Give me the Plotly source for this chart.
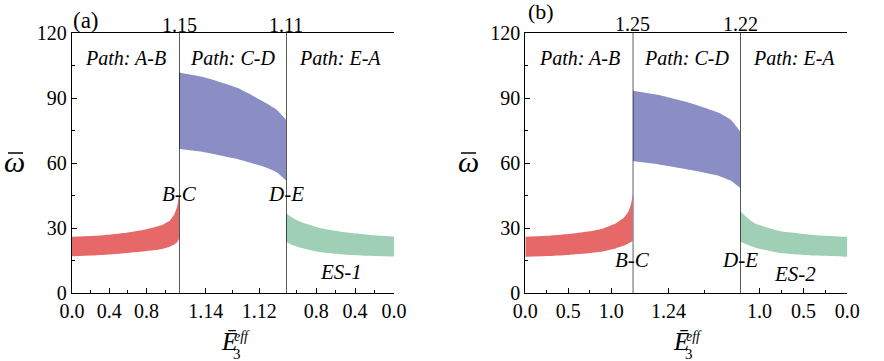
import plotly.graph_objects as go

W, H = 884, 361
FONT = "Liberation Serif, Times New Roman, Tinos, DejaVu Serif, serif"

# ---- panel (a) : ES-1 ----
a_ab_x = [0.0, 0.2, 0.4, 0.6, 0.8, 0.95, 1.05, 1.10, 1.13, 1.15]
a_ab_lo = [17.1, 17.4, 17.9, 18.6, 19.5, 20.3, 21.5, 22.5, 23.5, 25.0]
a_ab_hi = [26.1, 26.4, 27.0, 28.0, 29.5, 31.2, 33.5, 36.5, 40.0, 45.5]

a_cd_x = [1.15, 1.141, 1.135, 1.128, 1.1185, 1.1135, 1.11]
a_cd_lo = [66.6, 65.1, 63.6, 61.8, 58.4, 55.8, 52.0]
a_cd_hi = [101.8, 99.7, 97.5, 94.6, 88.4, 84.6, 80.0]

a_ea_x = [1.11, 1.05, 0.95, 0.75, 0.5, 0.25, 0.0]
a_ea_lo = [23.8, 22.4, 20.9, 18.9, 17.8, 17.3, 17.0]
a_ea_hi = [36.9, 35.0, 32.8, 30.0, 28.1, 26.9, 26.2]

# ---- panel (b) : ES-2 ----
b_ab_x = [0.0, 0.25, 0.5, 0.75, 0.9, 1.05, 1.15, 1.2, 1.23, 1.25]
b_ab_lo = [16.9, 17.2, 17.7, 18.6, 19.3, 20.7, 22.0, 23.0, 23.6, 24.1]
b_ab_hi = [26.1, 26.5, 27.3, 28.6, 29.8, 32.2, 35.0, 37.7, 41.0, 45.8]

b_cd_x = [1.25, 1.243, 1.234, 1.226, 1.2225, 1.22]
b_cd_lo = [61.0, 59.5, 56.9, 54.1, 51.8, 48.5]
b_cd_hi = [93.4, 91.5, 87.7, 83.2, 79.8, 74.5]

b_ea_x = [1.22, 1.1, 1.03, 0.77, 0.39, 0.05, 0.0]
b_ea_lo = [23.8, 21.8, 20.8, 18.6, 17.4, 16.9, 16.9]
b_ea_hi = [37.7, 33.5, 31.8, 28.7, 26.9, 26.1, 26.1]

# turning points of the loading paths
a_breaks = [1.15, 1.11]
b_breaks = [1.25, 1.22]

path_labels = ["Path: A-B", "Path: C-D", "Path: E-A"]
y_ticks = [0, 30, 60, 90, 120]

RED, BLUE, GREEN = "#E66868", "#8B8EC5", "#9FD0B6"


def px(x):
    return x / W


def py(y):
    return 1 - y / H


fig = go.Figure()


def band(x, lo, hi, color, xa, ya):
    line = dict(width=0, shape="spline", smoothing=0.4)
    fig.add_trace(go.Scatter(x=x, y=lo, mode="lines", line=line,
                             xaxis=xa, yaxis=ya, hoverinfo="skip", showlegend=False))
    fig.add_trace(go.Scatter(x=x, y=hi, mode="lines", line=line,
                             fill="tonexty", fillcolor=color, xaxis=xa, yaxis=ya,
                             hoverinfo="skip", showlegend=False))


band(a_ab_x, a_ab_lo, a_ab_hi, RED, "x", "y")
band(a_cd_x, a_cd_lo, a_cd_hi, BLUE, "x2", "y")
band(a_ea_x, a_ea_lo, a_ea_hi, GREEN, "x3", "y")
band(b_ab_x, b_ab_lo, b_ab_hi, RED, "x4", "y3")
band(b_cd_x, b_cd_lo, b_cd_hi, BLUE, "x5", "y3")
band(b_ea_x, b_ea_lo, b_ea_hi, GREEN, "x6", "y3")

tickfont = dict(family=FONT, size=20, color="black")
LW = 1.3

# pixel edges of the three sub-ranges of each panel
a_edges = [72, 179, 286, 394]
b_edges = [525.3, 632.7, 740.3, 847.3]
y_dom = [py(293.3), py(33)]


def xaxis(edges, i, rng, anchor, major, minor):
    ax = dict(domain=[px(edges[i]), px(edges[i + 1])], range=rng, anchor=anchor,
              automargin=False,
              showline=True, linecolor="black", linewidth=LW, mirror=True,
              showgrid=False, zeroline=False, ticks="inside", ticklen=5,
              tickcolor="black", tickwidth=1, tickfont=tickfont,
              minor=dict(ticks="inside", ticklen=3, tickcolor="black", **minor))
    ax.update(major)
    return ax


yax = dict(range=[0, 120], domain=y_dom, tickvals=y_ticks, showline=True, linecolor="black",
           automargin=False,
           linewidth=LW, showgrid=False, zeroline=False, ticks="inside", ticklen=5,
           tickcolor="black", tickfont=tickfont,
           minor=dict(ticks="inside", ticklen=3, dtick=15, tick0=0, tickcolor="black"))

fig.update_layout(
    width=W, height=H, margin=dict(l=0, r=0, t=0, b=0, autoexpand=False),
    paper_bgcolor="white", plot_bgcolor="white",
    font=dict(family=FONT, color="black"),
    xaxis=xaxis(a_edges, 0, [0, a_breaks[0]], "y", dict(dtick=0.4, tick0=0, tickformat=".1f"), dict(dtick=0.2, tick0=0)),
    xaxis2=xaxis(a_edges, 1, [a_breaks[0], a_breaks[1]], "y", dict(dtick=0.02, tick0=1.12, tickformat=".2f"), dict(dtick=0.01, tick0=1.11)),
    xaxis3=xaxis(a_edges, 2, [a_breaks[1], 0], "y", dict(dtick=0.4, tick0=0, tickformat=".1f"), dict(dtick=0.2, tick0=0)),
    xaxis4=xaxis(b_edges, 0, [0, b_breaks[0]], "y3", dict(dtick=0.5, tick0=0, tickformat=".1f"), dict(dtick=0.25, tick0=0)),
    xaxis5=xaxis(b_edges, 1, [b_breaks[0], b_breaks[1]], "y3", dict(tickvals=[1.24], tickformat=".2f"), dict(dtick=0.01, tick0=1.22)),
    xaxis6=xaxis(b_edges, 2, [b_breaks[1], 0], "y3", dict(dtick=0.5, tick0=0, tickformat=".1f"), dict(dtick=0.25, tick0=0)),
    yaxis=dict(yax, anchor="x", side="left"),
    yaxis2=dict(yax, anchor="x3", side="right", overlaying="y"),
    yaxis3=dict(yax, anchor="x4", side="left"),
    yaxis4=dict(yax, anchor="x6", side="right", overlaying="y3"),
)

shapes = []
for xa, ya, b in [("x2", "y", a_breaks[0]), ("x3", "y", a_breaks[1]),
                  ("x5", "y3", b_breaks[0]), ("x6", "y3", b_breaks[1])]:
    shapes.append(dict(type="line", xref=xa, yref=ya, x0=b, x1=b, y0=0, y1=120,
                       line=dict(color="black", width=LW)))
# overbar of the omega symbol
for x0 in (8, 461):
    shapes.append(dict(type="line", xref="paper", yref="paper", x0=px(x0), x1=px(x0 + 15),
                       y0=py(153), y1=py(153), line=dict(color="black", width=1.5)))
fig.update_layout(shapes=shapes)

ann = []


def text(x, y, s, size=20, italic=False, family=FONT, **kw):
    ann.append(dict(x=x, y=y, text=f"<i>{s}</i>" if italic else s, showarrow=False,
                    xanchor="center", yanchor="middle",
                    font=dict(family=family, size=size, color="black"), **kw))


for xas, ya in [(["x", "x2", "x3"], "y"), (["x4", "x5", "x6"], "y3")]:
    for xa, lab in zip(xas, path_labels):
        text(0.5, 108.6, lab, size=20, italic=True, xref=f"{xa} domain", yref=ya)

# top labels at the turning points
text(a_breaks[0], py(25), f"{a_breaks[0]:.2f}", xref="x2", yref="paper")
text(a_breaks[1], py(25), f"{a_breaks[1]:.2f}", xref="x3", yref="paper")
text(b_breaks[0], py(24), f"{b_breaks[0]:.2f}", xref="x5", yref="paper")
text(b_breaks[1], py(24), f"{b_breaks[1]:.2f}", xref="x6", yref="paper")

# transition points
text(a_breaks[0], 45.8, "B-C", size=21, italic=True, xref="x2", yref="y")
text(a_breaks[1], 45.8, "D-E", size=21, italic=True, xref="x3", yref="y")
text(b_breaks[0], 15.4, "B-C", size=21, italic=True, xref="x5", yref="y3")
text(b_breaks[1], 15.4, "D-E", size=21, italic=True, xref="x6", yref="y3")

text(0.51, 9.8, "ES-1", size=21, italic=True, xref="x3 domain", yref="y")
text(0.51, 8.9, "ES-2", size=21, italic=True, xref="x6 domain", yref="y3")

text(px(86), py(20), "(a)", size=23, xref="paper", yref="paper")
text(px(541), py(11), "(b)", size=22, xref="paper", yref="paper")

# axis titles
for off in (0, 453):
    text(px(15 + off), py(162), "ω", size=30, italic=True, xref="paper", yref="paper")
for cx in (229, 681):
    text(px(cx), py(341), "Ē", size=25, italic=True, xref="paper", yref="paper")
    text(px(cx + 13), py(336), "eff", size=14, italic=True, xref="paper", yref="paper")
    text(px(cx + 8), py(354), "3", size=15, xref="paper", yref="paper")

fig.update_layout(annotations=ann)
fig.write_html("out.html")
